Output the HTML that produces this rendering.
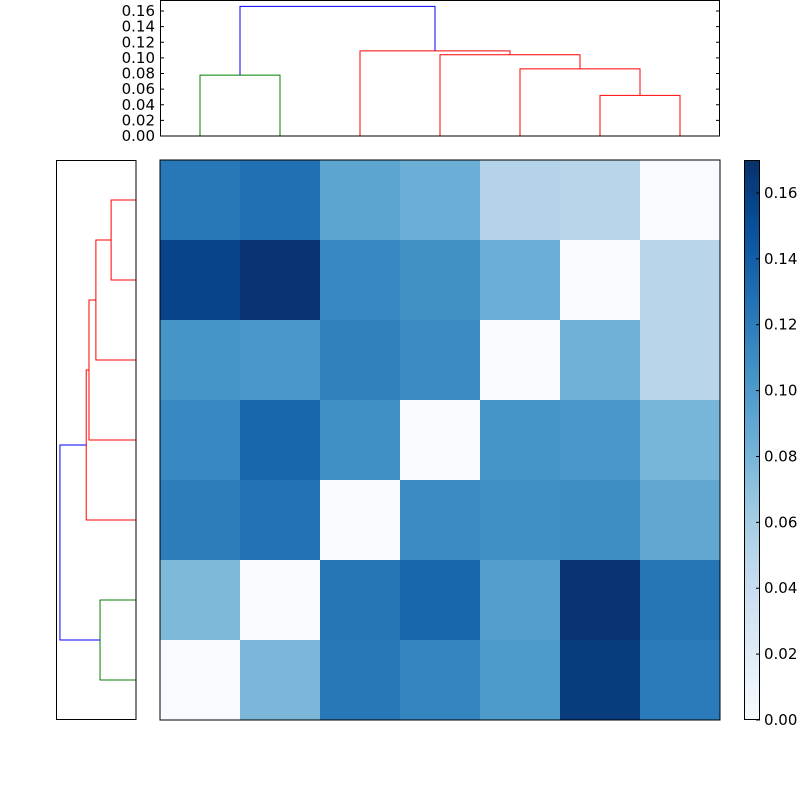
<!DOCTYPE html>
<html><head><meta charset="utf-8"><style>
html,body{margin:0;padding:0;background:#fff;}
svg text{font-family:"DejaVu Sans","Liberation Sans",sans-serif;font-size:15px;fill:#000;}
</style></head><body>
<svg id="chart" width="800" height="800" xmlns="http://www.w3.org/2000/svg">
<defs><linearGradient id="cbgrad" x1="0" y1="1" x2="0" y2="0">
<stop offset="0" stop-color="#f7fbff"/><stop offset="0.125" stop-color="#deebf7"/><stop offset="0.25" stop-color="#c6dbef"/><stop offset="0.375" stop-color="#9ecae1"/><stop offset="0.5" stop-color="#6baed6"/><stop offset="0.625" stop-color="#4292c6"/><stop offset="0.75" stop-color="#2171b5"/><stop offset="0.875" stop-color="#08519c"/><stop offset="1" stop-color="#08306b"/>
</linearGradient></defs>
<g id="heat"></g>
<g id="topd"></g>
<g id="leftd"></g>
<g id="cbar"></g>
</svg>
<script>
const matrixRows = [
 [0.123,0.128,0.092,0.085,0.052,0.050,0.000],
 [0.157,0.168,0.113,0.107,0.085,0.000,0.050],
 [0.104,0.102,0.117,0.110,0.000,0.083,0.050],
 [0.113,0.135,0.108,0.000,0.104,0.102,0.080],
 [0.120,0.127,0.000,0.110,0.108,0.109,0.090],
 [0.077,0.000,0.125,0.135,0.097,0.168,0.125],
 [0.000,0.078,0.123,0.115,0.100,0.162,0.121]
];
// dendrogram links: [leftPos, rightPos, height, leftChildHeight, rightChildHeight, color]; positions in leaf units (0..6)
const topLinks = [
 [0,1,0.078,0,0,'green'],
 [5,6,0.052,0,0,'red'],
 [4,5.5,0.086,0,0.052,'red'],
 [3,4.75,0.104,0,0.086,'red'],
 [2,3.875,0.109,0,0.104,'red'],
 [0.5,2.9375,0.166,0.078,0.109,'blue']
];
const leftLinks = [
 [0,1,0.078,0,0,'green'],
 [5,6,0.054,0,0,'red'],
 [4,5.5,0.087,0,0.054,'red'],
 [3,4.75,0.102,0,0.087,'red'],
 [2,3.875,0.108,0,0.102,'red'],
 [0.5,2.9375,0.165,0.078,0.108,'blue']
];
const topTicks = [0,0.02,0.04,0.06,0.08,0.10,0.12,0.14,0.16];
const cbTicks = [0,0.02,0.04,0.06,0.08,0.10,0.12,0.14,0.16];
const vmax = 0.17;

const NS='http://www.w3.org/2000/svg';
function mk(t,a,p){const e=document.createElementNS(NS,t);for(const k in a)e.setAttribute(k,a[k]);p.appendChild(e);return e;}
const stops=['#f7fbff','#deebf7','#c6dbef','#9ecae1','#6baed6','#4292c6','#2171b5','#08519c','#08306b'];
function hx(c){return [1,3,5].map(i=>parseInt(c.substr(i,2),16));}
function cmap(v){let t=Math.max(0,Math.min(1,v/vmax))*8;let i=Math.min(7,Math.floor(t));let f=t-i;const a=hx(stops[i]),b=hx(stops[i+1]);return 'rgb('+a.map((x,k)=>Math.round(x+(b[k]-x)*f)).join(',')+')';}

const heat=document.getElementById('heat');
const hx0=160,hy0=160,cell=80;
matrixRows.forEach((row,r)=>row.forEach((v,c)=>{
 const e=mk('rect',{x:hx0+c*cell,y:hy0+r*cell,width:cell,height:cell,fill:cmap(v)},heat);
 
 
}));
mk('rect',{x:160,y:160,width:560,height:560,fill:'none',stroke:'#000','stroke-width':1},heat);

const topd=document.getElementById('topd');
const tY=v=>136-v*781.25, tX=p=>200+p*80;
topLinks.forEach(l=>{
 const e=mk('path',{d:`M${tX(l[0])},${tY(l[3])}V${tY(l[2])}H${tX(l[1])}V${tY(l[4])}`,fill:'none',stroke:l[5],'stroke-width':1},topd);
 
 
});
mk('rect',{x:160.5,y:0.5,width:559,height:135.5,fill:'none',stroke:'#000'},topd);
topTicks.forEach(t=>{
 const y=tY(t);
 mk('line',{x1:160,x2:164,y1:y,y2:y,stroke:'#000'},topd);
 mk('line',{x1:716,x2:720,y1:y,y2:y,stroke:'#000'},topd);
 const tx=mk('text',{x:155,y:y+5,'text-anchor':'end'},topd);tx.textContent=t.toFixed(2);
 
 
});

const leftd=document.getElementById('leftd');
const lX=v=>136-v*461, lY=p=>680-p*80;
leftLinks.forEach(l=>{
 const e=mk('path',{d:`M${lX(l[3])},${lY(l[0])}H${lX(l[2])}V${lY(l[1])}H${lX(l[4])}`,fill:'none',stroke:l[5],'stroke-width':1},leftd);
 
 
});
mk('rect',{x:56.5,y:160.5,width:79.5,height:559,fill:'none',stroke:'#000'},leftd);

const cb=document.getElementById('cbar');
mk('rect',{x:744,y:160,width:16,height:560,fill:'url(#cbgrad)'},cb);
mk('rect',{x:744.5,y:160.5,width:15,height:559,fill:'none',stroke:'#000'},cb);
const cY=v=>720-v/vmax*560;
cbTicks.forEach(t=>{
 const y=cY(t);
 mk('line',{x1:756,x2:760,y1:y,y2:y,stroke:'#000'},cb);
 const tx=mk('text',{x:764,y:y+5},cb);tx.textContent=t.toFixed(2);
 
 
});
</script>
</body></html>
